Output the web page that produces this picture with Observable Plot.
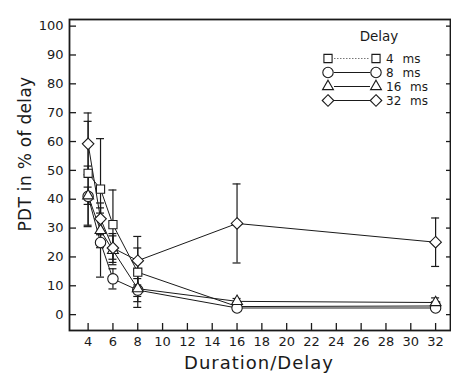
<!DOCTYPE html>
<html>
<head>
<meta charset="utf-8">
<script src="https://cdn.jsdelivr.net/npm/d3@7"></script>
<script src="https://cdn.jsdelivr.net/npm/@observablehq/plot@0.6"></script>
<style>
  html, body { margin: 0; padding: 0; background: #fff; }
  #chart { width: 451px; height: 378px; }
</style>
</head>
<body>
<div id="chart"></div>
<script>
// ---- data ----
const durations = [4, 5, 6, 8, 16, 32];
const delays = ["4 ms", "8 ms", "16 ms", "32 ms"];
const pdt4  = [49.0, 43.5, 31.2, 14.7, 2.8, 3.0];
const pdt8  = [41.0, 25.0, 12.4, 8.5, 2.3, 2.3];
const pdt16 = [41.2, 29.2, 22.3, 9.0, 4.6, 4.2];
const pdt32 = [59.2, 33.2, 23.1, 18.7, 31.6, 25.1];
const err4  = [18.0, 17.5, 12.0, 8.4, 0.8, 0.8];
const err8  = [10.5, 12.0, 3.5, 4.0, 0.6, 0.6];
const err16 = [3.0, 6.0, 5.0, 6.5, 1.0, 1.6];
const err32 = [10.7, 5.5, 5.0, 8.4, 13.7, 8.4];
const xTicks = [4, 6, 8, 10, 12, 14, 16, 18, 20, 22, 24, 26, 28, 30, 32];
const yTicks = [0, 10, 20, 30, 40, 50, 60, 70, 80, 90, 100];
const symbolNames = ["square2", "circle", "triangle2", "diamond2"];

const seriesVals = [pdt4, pdt8, pdt16, pdt32];
const seriesErr = [err4, err8, err16, err32];
const rows = delays.flatMap((s, i) => durations.map((d, j) => ({
  delay: s, x: d, y: seriesVals[i][j], lo: seriesVals[i][j] - seriesErr[i][j], hi: seriesVals[i][j] + seriesErr[i][j]
})));

const W = 451, H = 378, mL = 69, mR = 1, mT = 19, mB = 48;
const fw = W - mL - mR, fh = H - mT - mB;
const ink = "#1a1a1a";

const chart = Plot.plot({
  width: W, height: H,
  marginLeft: mL, marginRight: mR, marginTop: mT, marginBottom: mB,
  style: { fontFamily: "DejaVu Sans, sans-serif", fontSize: "13px", color: ink, background: "#fff" },
  x: { domain: [2.5, 33.2] },
  y: { domain: [-5.5, 102.3] },
  symbol: { domain: delays, range: symbolNames },
  marks: [
    Plot.axisX({ ticks: xTicks, tickSize: 0, tickPadding: 6, label: null, fontSize: 13 }),
    Plot.axisY({ ticks: yTicks, tickSize: 0, tickPadding: 6, label: null, fontSize: 13 }),
    Plot.ruleX(xTicks, { x: d => d, insetTop: fh - 7, stroke: ink, strokeWidth: 1.3 }),
    Plot.ruleY(yTicks, { y: d => d, insetRight: fw - 7, stroke: ink, strokeWidth: 1.3 }),
    Plot.ruleY(yTicks, { y: d => d, insetLeft: fw - 4, stroke: ink, strokeWidth: 1.3 }),
    Plot.line(rows, { x: "x", y: "y", z: "delay", stroke: ink, strokeWidth: 1 }),
    Plot.ruleX(rows, { x: "x", y1: "lo", y2: "hi", stroke: ink, strokeWidth: 1.2 }),
    Plot.ruleY(rows, { y: "hi", x1: "x", x2: "x", insetLeft: -4, insetRight: -4, stroke: ink, strokeWidth: 1.2 }),
    Plot.ruleY(rows, { y: "lo", x1: "x", x2: "x", insetLeft: -4, insetRight: -4, stroke: ink, strokeWidth: 1.2 }),
    Plot.dot(rows, { x: "x", y: "y", symbol: "delay", r: 5.2, fill: "white", stroke: ink, strokeWidth: 1.1 }),
    Plot.frame({ stroke: ink, strokeWidth: 1.8 })
  ]
});
document.getElementById("chart").appendChild(chart);

// ---- axis titles and legend ----
const svg = d3.select(chart);
svg.append("text")
  .attr("x", 259).attr("y", 369)
  .attr("text-anchor", "middle")
  .attr("font-size", 18).attr("letter-spacing", 1)
  .attr("fill", ink)
  .text("Duration/Delay");
svg.append("text")
  .attr("transform", "translate(31,154) rotate(-90)")
  .attr("text-anchor", "middle")
  .attr("font-size", 17).attr("letter-spacing", 0.3)
  .attr("fill", ink)
  .text("PDT in % of delay");

const d3sym = { square2: d3.symbolSquare2, circle: d3.symbolCircle, triangle2: d3.symbolTriangle2, diamond2: d3.symbolDiamond2 };
const lg = svg.append("g").attr("font-size", 12).attr("fill", ink);
lg.append("text").attr("x", 379).attr("y", 36).attr("dy", "0.35em").attr("text-anchor", "middle")
  .attr("font-size", 13.5).text("Delay");
const rowY = [58.5, 72.5, 86.5, 100.5];
delays.forEach((s, i) => {
  const y = rowY[i];
  lg.append("line").attr("x1", 334).attr("x2", 370).attr("y1", y).attr("y2", y)
    .attr("stroke", i === 0 ? "#777" : ink).attr("stroke-width", 1)
    .attr("stroke-dasharray", i === 0 ? "1.5,1.5" : null);
  [328, 376].forEach(cx => {
    lg.append("path")
      .attr("transform", `translate(${cx},${y})`)
      .attr("d", d3.symbol(d3sym[symbolNames[i]], Math.PI * 5.2 * 5.2)())
      .attr("fill", "white").attr("stroke", ink).attr("stroke-width", 1.1);
  });
  lg.append("text").attr("x", 386).attr("y", y).attr("dy", "0.35em")
    .attr("text-anchor", "start")
    .attr("word-spacing", 5).text(s);
});
</script>
</body>
</html>
